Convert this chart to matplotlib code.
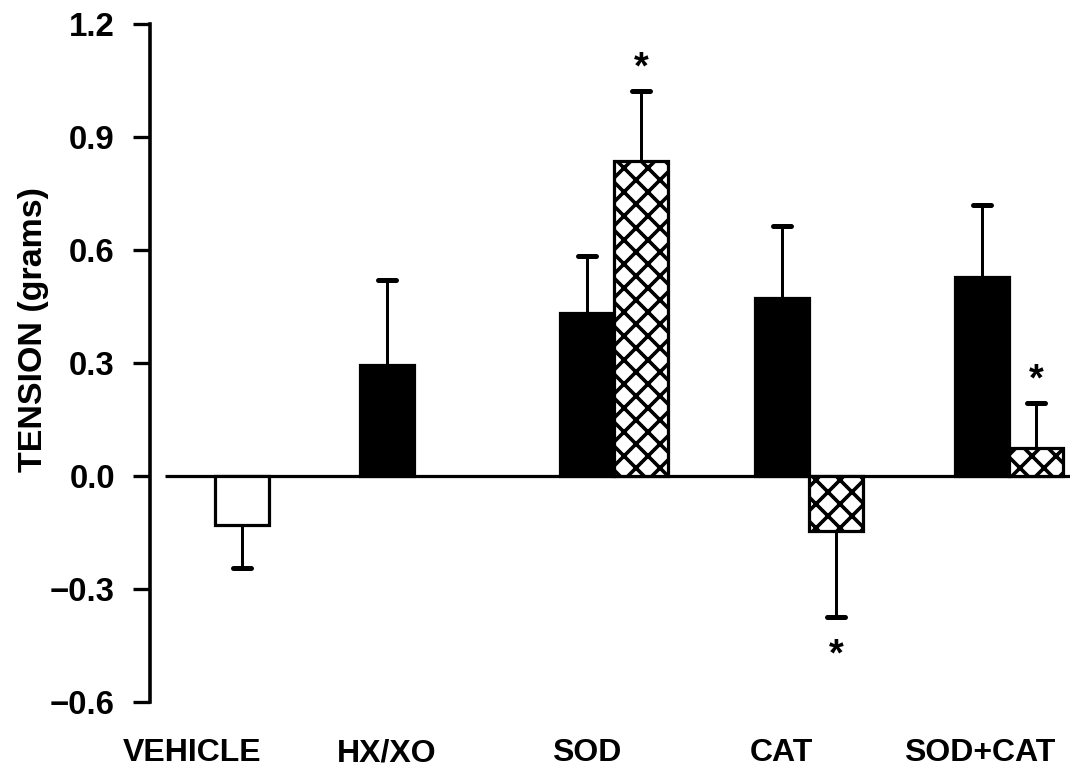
import matplotlib
matplotlib.use("Agg")
import matplotlib.pyplot as plt
from matplotlib.transforms import ScaledTranslation

# ---- data ----
categories = ['VEHICLE', 'HX/XO', 'SOD', 'CAT', 'SOD+CAT']
first_values = [-0.13, 0.295, 0.433, 0.473, 0.529]
first_errors = [0.115, 0.225, 0.151, 0.19, 0.19]
first_fill = ['white', 'black', 'black', 'black', 'black']
second_values = [None, None, 0.836, -0.145, 0.074]
second_errors = [None, None, 0.186, 0.229, 0.12]
yticks = [-0.6, -0.3, 0.0, 0.3, 0.6, 0.9, 1.2]
ylabel = 'TENSION (grams)'

# ---- layout (pixel-like x units); dpi 72 so 1 pt == 1 px ----
first_left = [215, 360, 560, 755, 955]
bar_w = 54
label_pos = [192, 387, 587, 781, 980]
star_offset = 0.082

DPI = 72
plt.rcParams['font.family'] = ['Liberation Sans', 'DejaVu Sans']
plt.rcParams['font.weight'] = 'bold'
plt.rcParams['hatch.linewidth'] = 3.6

fig = plt.figure(figsize=(1077/DPI, 768/DPI), dpi=DPI)
ax = fig.add_axes([150/1077, 66/768, 920/1077, 678/768])

ax.set_xlim(150, 1070)
ax.set_ylim(-0.6, 1.2)

# zero line
ax.plot([165, 1070], [0, 0], color='black', lw=3.2, zorder=1, solid_capstyle='butt')

def draw_bar(x0, v, e, fill, hatch=None):
    ax.bar(x0, v, width=bar_w, align='edge', color=fill, edgecolor='black',
           linewidth=3.2, hatch=hatch, zorder=3)
    xc = x0 + bar_w / 2
    sign = 1 if v >= 0 else -1
    tip = v + sign * e
    ax.plot([xc, xc], [v, tip], color='black', lw=3.0, zorder=2)
    ax.plot([xc - 9, xc + 9], [tip, tip], color='black', lw=5,
            solid_capstyle='round', zorder=2)
    return xc, tip, sign

star_shift = ax.transData + ScaledTranslation(0, -8/DPI, fig.dpi_scale_trans)
for i, cat in enumerate(categories):
    draw_bar(first_left[i], first_values[i], first_errors[i], first_fill[i])
    if second_values[i] is not None:
        xc, tip, sign = draw_bar(first_left[i] + bar_w, second_values[i],
                                 second_errors[i], 'white', hatch='x')
        ax.text(xc, tip + sign * star_offset, '*', ha='center', va='center',
                fontsize=38, fontweight='bold', transform=star_shift)

ax.set_xticks(label_pos)
ax.set_xticklabels(categories, fontsize=32, fontweight='bold')
ax.tick_params(axis='x', length=0, pad=36)

ax.set_yticks(yticks)
ax.set_yticklabels([f'{t:.1f}'.replace('-', '\u2212') for t in yticks],
                   fontsize=33, fontweight='bold')
ax.tick_params(axis='y', length=17, width=3.3, pad=18)

for s in ['top', 'right', 'bottom']:
    ax.spines[s].set_visible(False)
ax.spines['left'].set_linewidth(3.6)

ax.set_ylabel(ylabel, fontsize=34, fontweight='bold')
ax.yaxis.set_label_coords(-0.11, 0.549)

fig.savefig('out.png', dpi=DPI)
